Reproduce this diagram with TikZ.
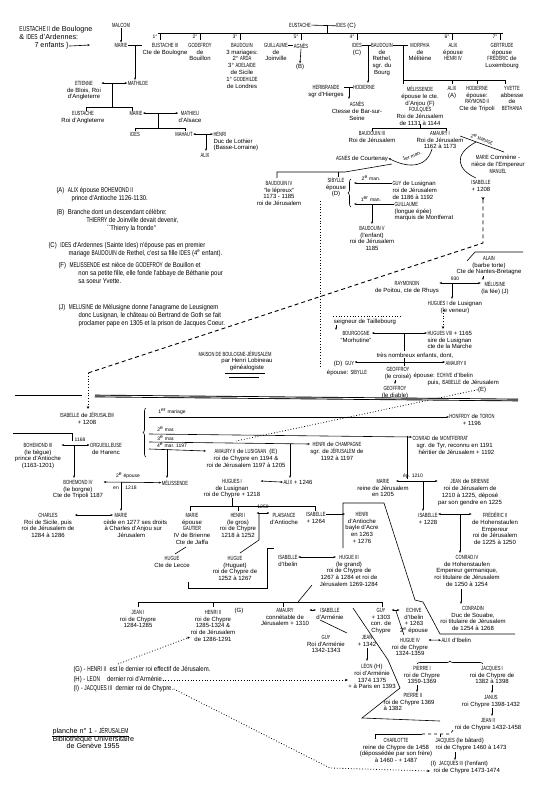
\documentclass[tikz,border=0pt]{standalone}
\usepackage{fontspec}
\setmainfont{Liberation Sans}
\newfontfamily\capsfont{Liberation Sans}[FakeStretch=0.68]
\newfontfamily\notefont{Liberation Sans}[FakeStretch=0.85]
\newcommand\Nm[1]{{\capsfont #1}}
\usetikzlibrary{arrows.meta, positioning, decorations.pathreplacing}

\begin{document}
\begin{tikzpicture}[x=1pt, y=-1pt,
	every node/.style={inner sep=0.3pt, font=\fontsize{6}{6.9}\selectfont},
	nm/.style={anchor=north, yshift=2.5pt, align=center},
	nl/.style={anchor=north west, yshift=2.5pt, align=left},
	notew/.style={anchor=north west, yshift=2.8pt, align=left, font=\fontsize{7.2}{7.6}\selectfont},
	note/.style={notew, font=\notefont\fontsize{7}{7.6}\selectfont},
	lbl/.style={font=\fontsize{5}{6}\selectfont, inner sep=0.5pt},
	lnk/.style={line width=0.6pt},
	mar/.style={lnk, {Stealth[length=2.6pt,width=2pt]}-{Stealth[length=2.6pt,width=2pt]}},
	dn/.style={lnk, -{Stealth[length=2.6pt,width=2pt]}},
	up/.style={lnk, {Stealth[length=2.6pt,width=2pt]}-},
	dotl/.style={line width=0.8pt, dotted},
	dashl/.style={line width=0.9pt, dash pattern=on 4pt off 3pt},
	sep/.style={double, double distance=0.8pt, line width=0.9pt},
	brc/.style={lnk, decorate, decoration={brace, amplitude=3pt}}]
	\fill[white] (0,0) rectangle (550,797);
	\useasboundingbox (0,0) rectangle (550,797);

	% Boulogne
	\node[notew] (eust2) at (19,29) {\Nm{EUSTACHE II} de Boulogne\\\& \Nm{IDES} d'Ardennes:};
	\node[notew] (enf) at (34,45) {7 enfants \}};
	\coordinate (enfto) at (90,45);
	\draw[dn] (enf.east) -- (enfto);
	\node[nm] (malcom) at (121,25) {\Nm{MALCOM}};
	\node[nm] (marie1) at (121,45) {\Nm{MARIE}};
	\draw[dn] (malcom) -- (marie1);
	\node[nm] (eust3) at (165,45) {\Nm{EUSTACHE III}\\Cte de Boulogne};
	\draw[lnk] (marie1.east) -- (eust3.west |- marie1.east);
	\node[nm] (eustache) at (300,25) {\Nm{EUSTACHE}};
	\node[nm] (idesc) at (346,25) {\Nm{IDES} (C)};
	\draw[lnk] (eustache.east) -- (idesc.west);
	\draw[lnk] (327,25) -- (327,33);
	\draw[lnk] (158,33) -- (503,33);
	\foreach \x/\n in {160/1,200/2,240/3,301/5,357/4,452/6,500/7} {
		\draw[lnk] (\x,33) -- (\x,40);
		\node[lbl] (ord\n) at ({\x-5},37) {\n°};
	}
	\node[nm] (godefroy) at (200,45) {\Nm{GODEFROY}\\de\\Bouillon};
	\node[nm] (baudouin1) at (242,45) {\Nm{BAUDOUIN}\\3 mariages:\\2° \Nm{ARDA}\\3° \Nm{ADELAIDE}\\de Sicile\\1° \Nm{GODEHILDE}\\de Londres};
	\node[nm] (guillaume) at (276,45) {\Nm{GUILLAUME}\\de\\Joinville};
	\node[nm] (agnes1) at (301,45) {\Nm{AGNÈS}};
	\draw[lnk] (guillaume.east |- agnes1.west) -- (agnes1.west);
	\node[nm] (b) at (300,66) {(B)};
	\draw[dn] (agnes1.south) -- (b.north);
	\node[nm] (ides4) at (357,45) {\Nm{IDES}\\(C)};
	\node[nm] (baudouin2) at (382,45) {\Nm{BAUDOUIN}\\de\\Rethel,\\sgr. du\\Bourg};
	\draw[lnk] (ides4.east |- 0,45) -- (baudouin2.west |- 0,45);
	\node[nm] (morphia) at (420,45) {\Nm{MORPHIA}\\de\\Mélitène};
	\draw[lnk] (baudouin2.east |- 0,45) -- (morphia.west |- 0,45);
	\node[nm] (alix1) at (453,45) {\Nm{ALIX}\\épouse\\\Nm{HENRI IV}};
	\node[nm] (gertrude) at (502,45) {\Nm{GERTRUDE}\\épouse\\\Nm{FRÉDÉRIC} de\\Luxembourg};

	\node[nm] (etienne) at (84,83) {\Nm{ETIENNE}\\de Blois, Roi\\d'Angleterre};
	\node[nm] (mathilde) at (138,83) {\Nm{MATHILDE}};
	\draw[dn] (135,45) -- (135,80);
	\draw[mar] (etienne.east |- mathilde.west) -- (mathilde.west);
	\draw[lnk] (112,83) -- (112,107);
	\draw[lnk] (86,111) -- (86,107) -- (132,107) -- (132,111);
	\node[nm] (eustache4) at (83,113) {\Nm{EUSTACHE}\\Roi d'Angleterre};
	\node[nm] (marie2) at (136,113) {\Nm{MARIE}};
	\node[nm] (mathieu) at (190,113) {\Nm{MATHIEU}\\d'Alsace};
	\draw[mar] (marie2.east) -- (mathieu.west |- marie2.east);
	\draw[lnk] (158,113) -- (158,128);
	\draw[lnk] (135,131) -- (135,128) -- (185,128) -- (185,131);
	\node[nm] (ides5) at (135,134) {\Nm{IDES}};
	\node[nm] (mahaut) at (184,134) {\Nm{MAHAUT}};
	\node[nl] (henri1) at (213,134) {\Nm{HENRI}\\Duc de Lothier\\(Basse-Lorraine)};
	\draw[mar] (mahaut.east) -- (henri1.west |- mahaut.east);
	\draw[dn] (206,134) -- (206,151);
	\node[nm] (alix2) at (205,155) {\Nm{ALIX}};

	% Rethel
	\node[nm] (heribrande) at (326,87) {\Nm{HERIBRANDE}\\sgr d'Hierges};
	\node[nm] (hodierne1) at (364,87) {\Nm{HODIERNE}};
	\draw[lnk] (heribrande.east |- hodierne1.west) -- (hodierne1.west);
	\draw[dn] (368,45) -- (368,83);
	\draw[dn] (349,87) -- (349,99);
	\node[nm] (agnes2) at (357,103) {\Nm{AGNÈS}\\Ctesse de Bar-sur-\\Seine};
	\draw[lnk] (403,45) -- (403,80) -- (505,80);
	\foreach \x in {403,452,477,505} \draw[lnk] (\x,80) -- (\x,84);
	\node[nm] (melissende1) at (420,88) {\Nm{MÉLISSENDE}\\épouse le cte.\\d'Anjou (F)\\\Nm{FOULQUES}\\Roi de Jérusalem\\de 1131 à 1144};
	\node[nm] (alix3) at (452,88) {\Nm{ALIX}\\(A)};
	\node[nm] (hodierne2) at (477,88) {\Nm{HODIERNE}\\épouse:\\\Nm{RAYMOND II}\\Cte de Tripoli};
	\node[nm] (yvette) at (512,88) {\Nm{YVETTE}\\abbesse\\de\\\Nm{BETHANIA}};
	\draw[lnk] (420,124) -- (420,128);
	\draw[lnk] (372,131) -- (372,128) -- (446,128) -- (446,131);
	\node[nm] (baudouin3) at (372,133) {\Nm{BAUDOUIN III}\\Roi de Jérusalem};
	\node[nm] (amaury1) at (440,133) {\Nm{AMAURY I}\\Roi de Jérusalem\\1162 à 1173};
	\node[nm] (agnes3) at (362,157) {\Nm{AGNÈS} de Courtenay};
	\draw[dn] (432,149) .. controls (426,170) and (405,167) .. (agnes3.east);
	\node[lbl, rotate=20] (man1a) at (412,156) {1er man.};
	\draw[lnk] (460,136) -- (504,152);
	\node[lbl, rotate=-20] (mar2a) at (482,139) {2\textsuperscript{e} \Nm{MARIAGE}};
	\draw[lnk] (476,142) .. controls (452,155) and (458,170) .. (476,178);
	\node[nm] (mariecomn) at (498,157) {\Nm{MARIE} Comnène -\\nièce de l'Empereur\\\Nm{MANUEL}};
	\node[nm] (isabelle1) at (481,182) {\Nm{ISABELLE}\\+ 1208};
	\draw[lnk] (392,164) -- (345,172) -- (277,172) -- (277,178);
	\draw[lnk] (338,172) -- (338,177);
	\node[nm] (baudouin4) at (279,183) {\Nm{BAUDOUIN IV}\\``le lépreux''\\1173 - 1185\\roi de Jérusalem};
	\node[nm] (sibylle) at (336,180) {\Nm{SIBYLLE}\\épouse\\(D)};
	\draw[brc] (351,207) -- (351,179);
	\node[nl] (guy1) at (392,183) {\Nm{GUY} de Lusignan\\roi de Jérusalem\\de 1186 à 1192};
	\node[nl] (guillaume2) at (394,204) {\Nm{GUILLAUME}\\(longue épée)\\marquis de Montferrat};
	\draw[up] (354,183) -- (guy1.west |- 0,183);
	\draw[up] (354,204) -- (guillaume2.west |- 0,204);
	\node[lbl] (man2b) at (371,178) {2\textsuperscript{e} man.};
	\node[lbl] (man1b) at (371,199) {1\textsuperscript{er} man.};
	\draw[dn] (372,204) -- (372,224);
	\node[nm] (baudouin5) at (372,228) {\Nm{BAUDOUIN V}\\(l'enfant)\\roi de Jérusalem\\1185};
	\draw[dotl] (320,201) -- (320,367);
	\draw[dashl, {Stealth[reversed,length=3pt,width=3pt]}-] (483,197) -- (483,243) -- (88,373);
	\draw[dotl, -{Stealth[length=3pt,width=2.5pt]}] (88,373) -- (88,409);

	% notes
	\node[note] (notea) at (56,190) {(A)\enspace \Nm{ALIX} épouse \Nm{BOHEMOND II}\\\hspace*{15pt}prince d'Antioche 1126-1130.};
	\node[note] (noteb) at (56,212) {(B)\enspace Branche dont un descendant célèbre:\\\hspace*{30pt}\Nm{THIERRY} de Joinville devait devenir,\\\hspace*{50pt}``Thierry la fronde''};
	\node[note] (notec) at (48,245) {(C)\enspace \Nm{IDES} d'Ardennes (Sainte Ides) n'épouse pas en premier\\\hspace*{20pt}mariage \Nm{BAUDOUIN} de Rethel, c'est sa fille \Nm{IDES} (4\textsuperscript{e} enfant).};
	\node[note] (notef) at (58,265) {(F)\enspace \Nm{MELISSENDE} est nièce de \Nm{GODEFROY} de Bouillon et\\\hspace*{20pt}non sa petite fille, elle fonde l'abbaye de Béthanie pour\\\hspace*{20pt}sa soeur Yvette.};
	\node[note] (notej) at (58,307) {(J)\enspace \Nm{MELUSINE} de Mélusigne donne l'anagrame de Leusignem\\\hspace*{20pt}donc Lusignan, le château où Bertrand de Goth se fait\\\hspace*{20pt}proclamer pape en 1305 et la prison de Jacques Coeur.};
	\node[nm] (maison) at (235,353) {\Nm{MAISON DE BOULOGNE-JÉRUSALEM}};
	\node[nm] (lobineau) at (247,360) {par Henri Lobineau\\généalogiste};
	\draw[lnk] (225,373) -- (265,373);
	\draw[lnk] (229,377) -- (259,377);

	% Lusignan
	\node[nm] (alain) at (489,258) {\Nm{ALAIN}\\(barbe torte)\\Cte de Nantes-Bretagne};
	\draw[lnk] (467,261) -- (475,252) -- (523,252);
	\draw[dn] (483,276) -- (483,280);
	\node[nm] (melusine) at (495,283) {\Nm{MÉLUSINE}\\(la fée) (J)};
	\node[nm] (raymondin) at (407,283) {\Nm{RAYMONDIN}\\de Poitou, cte de Rhuys};
	\draw[mar] (raymondin.east |- 0,283) -- (melusine.west |- 0,283);
	\node[lbl] (an930) at (455,279) {930};
	\draw[dn] (452,283) -- (452,299);
	\node[nm] (hugues1) at (455,303) {\Nm{HUGUES I} de Lusignan\\(le veneur)};
	\draw[dotl, -{Stealth[length=3pt,width=2.5pt]}] (443,310) -- (443,329);
	\node[nm] (taillebourg) at (365,321) {seigneur de Taillebourg};
	\draw[dotl] (333,316) -- (402,316);
	\draw[dn] (336,325) -- (336,330);
	\node[nm] (bourgogne) at (356,333) {\Nm{BOURGOGNE}\\``Morhutine''};
	\node[nl] (hugues8) at (427,333) {\Nm{HUGUES VIII} + 1165\\sire de Lusignan\\cte de la Marche};
	\draw[mar] (bourgogne.east |- 0,333) -- (hugues8.west |- 0,333);
	\draw[lnk] (404,333) -- (404,351);
	\node[nm] (enfants) at (415,355) {très nombreux enfants, dont,};
	\node[nm] (guyd) at (344,363) {(D)\enspace\Nm{GUY}};
	\node[nm] (amaury2) at (456,363) {\Nm{AMAURY II}};
	\draw[mar] (guyd.east |- 0,362) -- (amaury2.west |- 0,362);
	\draw[lnk] (404,358) -- (404,366);
	\node[nm] (geoffroy1) at (398,369) {\Nm{GEOFFROY}\\(le croisé)};
	\node[nl] (amaury2ep) at (413,375) {épouse: \Nm{ECHIVE} d'Ibelin\\\hspace*{14pt}puis, \Nm{ISABELLE} de Jérusalem};
	\node[nm] (refe) at (482,389) {(E)};
	\node[nm] (epsib) at (347,372) {épouse: \Nm{SIBYLLE}};
	\draw[dn] (395,380) -- (395,384);
	\node[nm] (geoffroy2) at (395,388) {\Nm{GEOFFROY}\\(le diable)};
	\draw[dotl] (refe.west) -- (236,441);

	\draw[sep] (15,396) -- (82,396);
	\draw[sep] (95,396) -- (518,400);

	% Jerusalem
	\node[nm] (isabelle2) at (87,414) {\Nm{ISABELLE} de \Nm{JÉRUSALEM}\\+ 1208};
	\draw[brc] (146,457) -- (146,408);
	\node[nm] (humfroy) at (472,416) {\Nm{HONFROY} de \Nm{TORON}\\+ 1196};
	\draw[dn] (149,417) -- (humfroy.west |- 0,417);
	\node[lbl] (m1) at (172,412) {1\textsuperscript{er} mariage};
	\node[nl] (conrad) at (412,438) {\Nm{CONRAD} de \Nm{MONTFERRAT}\\\hspace*{4pt}sgr. de Tyr, reconnu en 1191\\\hspace*{6pt}héritier de Jérusalem + 1192};
	\draw[dn] (149,434) -- (conrad.west |- 0,437);
	\node[lbl] (m2) at (166,429) {2\textsuperscript{e} mar.};
	\node[nm] (henri3) at (337,444) {\Nm{HENRI} de \Nm{CHAMPAGNE}\\sgr. de \Nm{JÉRUSALEM} de\\1192 à 1197};
	\draw[dn] (149,442) -- (henri3.west |- 0,444);
	\node[lbl] (m3) at (166,438) {3\textsuperscript{e} mar.};
	\node[nm] (amaury3) at (246,451) {\Nm{AMAURY II} de \Nm{LUSIGNAN}\enspace(E)\\roi de Chypre en 1194 \&\\roi de Jérusalem 1197 à 1205};
	\draw[dn] (149,449) -- (amaury3.west |- 0,451);
	\node[lbl] (m4) at (172,445) {4\textsuperscript{e} mar. 1197};
	\draw[dn] (167,449) -- (167,478);
	\draw[dn] (290,444) -- (290,478);
	\draw[lnk] (407,436) -- (407,479);

	\node[nm] (bohemond3) at (38,445) {\Nm{BOHEMOND III}\\(le bègue)\\prince d'Antioche\\(1163-1201)};
	\node[nm] (orgueil) at (106,445) {\Nm{ORGUEILLEUSE}\\de Harenc};
	\draw[mar] (bohemond3.east |- 0,445) -- (orgueil.west |- 0,445);
	\node[lbl] (y1168) at (80,440) {1168};
	\draw[lnk] (13,433) -- (72,433) -- (72,441);
	\draw[dn] (74,445) -- (74,478);
	\node[nm] (bohemond4) at (78,482) {\Nm{BOHEMOND IV}\\(le borgne)\\Cte de Tripoli 1187};
	\node[nm] (melissende2) at (175,482) {\Nm{MÉLISSENDE}};
	\draw[mar] (bohemond4.east |- 0,482) -- (melissende2.west);
	\node[lbl] (ep2) at (128,476) {2\textsuperscript{e} épouse};
	\node[lbl] (en) at (116,488) {en};
	\node[lbl] (y1218) at (131,488) {1218};
	\draw[dn] (121,482) -- (121,511);
	\node[nm] (charles) at (48,515) {\Nm{CHARLES}\\Roi de Sicile, puis\\roi de Jérusalem de\\1284 à 1286};
	\node[nl] (marie3) at (103,515) {\hspace*{11pt}\Nm{MARIE}\\cède en 1277 ses droits\\\hspace*{1pt}à Charles d'Anjou sur\\\hspace*{14pt}Jérusalem};
	\draw[mar] (charles.east |- 0,515) -- (113,515);

	\node[nm] (hugues1c) at (232,481) {\Nm{HUGUES I}\\de Lusignan\\roi de Chypre + 1218};
	\node[nl] (alix4) at (283,482) {\Nm{ALIX} + 1246};
	\draw[mar] (hugues1c.east |- 0,481) -- (alix4.west);
	\node[nm] (marie4) at (383,481) {\Nm{MARIE}\\reine de Jérusalem\\en 1205};
	\node[nm] (jean1210) at (470,481) {\Nm{JEAN} de \Nm{BRIENNE}\\roi de Jérusalem de\\1210 à 1225, déposé\\par son gendre en 1225};
	\draw[mar] (396,481) -- (jean1210.west |- 0,481);
	\node[lbl] (ep1210) at (413,476) {ép. 1210};
	\draw[dn] (423,481) -- (423,511);
	\node[nm] (isabelle3) at (428,515) {\Nm{ISABELLE}\\+ 1228};
	\node[nm] (frederic) at (495,514) {\Nm{FRÉDÉRIC II}\\de Hohenstaufen\\Empereur\\roi de Jérusalem\\de 1225 à 1250};
	\draw[mar] (isabelle3.east |- 0,514) -- (frederic.west |- 0,514);
	\draw[dn] (460,514) -- (460,553);
	\node[nm] (conrad4) at (467,557) {\Nm{CONRAD IV}\\de Hohenstaufen\\Empereur germanique,\\roi titulaire de Jérusalem\\de 1250 à 1254};
	\draw[dn] (461,589) -- (461,604);
	\node[nm] (conradin) at (473,608) {\Nm{CONRADIN}\\Duc de Souabe,\\roi titulaire de Jérusalem\\de 1254 à 1268};

	% Chypre
	\draw[lnk] (232,498) -- (232,506);
	\draw[lnk] (190,511) -- (190,506) -- (315,506) -- (315,511);
	\draw[lnk] (238,506) -- (238,511);
	\node[nm] (marie5) at (192,515) {\Nm{MARIE}\\épouse\\\Nm{GAUTIER}\\IV de Brienne\\Cte de Jaffa};
	\node[nm] (henri4) at (238,515) {\Nm{HENRI I}\\(le gros)\\roi de Chypre\\1218 à 1252};
	\node[nm] (plaisance) at (284,515) {\Nm{PLAISANCE}\\d'Antioche};
	\draw[mar] (henri4.east |- 0,513) -- (plaisance.west |- 0,513);
	\node[lbl] (y1250) at (263,507) {1250};
	\draw[lnk] (259,513) -- (259,540) -- (240,553);
	\node[nm] (huguet) at (235,558) {\Nm{HUGUE}\\(Huguet)\\roi de Chypre de\\1252 à 1267};
	\draw[lnk] (186,547) -- (175,554);
	\node[nm] (huguelecce) at (172,558) {\Nm{HUGUE}\\Cte de Lecce};
	\node[nm] (isabelle4) at (316,514) {\Nm{ISABELLE}\\+ 1264};
	\node[nm] (henri5) at (362,514) {\Nm{HENRI}\\d'Antioche\\bayle d'Acre\\en 1263\\+ 1276};
	\draw[dn] (isabelle4.east |- 0,514) -- (henri5.west |- 0,514);
	\draw[lnk] (343,548) -- (343,503) -- (384,503) -- (415,600) -- (423,602) -- (440,634) -- (515,634);
	\draw[lnk] (188,582) -- (188,588) -- (267,588) -- (267,548) -- (274,548);
	\node[nm] (isabelle5) at (288,557) {\Nm{ISABELLE}\\d'Ibelin};
	\node[nm] (hugue3) at (349,557) {\Nm{HUGUE III}\\(le grand)\\roi de Chypre de\\1267 à 1284 et roi de\\Jérusalem 1269-1284};
	\draw[mar] (isabelle5.east |- 0,557) -- (336,557);
	\draw[lnk] (312,585) -- (298,602);
	\draw[lnk] (138,607) -- (138,602) -- (382,602) -- (382,607);
	\draw[lnk] (213,602) -- (213,607);
	\draw[lnk] (283,602) -- (283,607);
	\node[nm] (jean1) at (138,612) {\Nm{JEAN I}\\roi de Chypre\\1284-1285};
	\node[nm] (henri6) at (213,612) {\Nm{HENRI II}\\roi de Chypre\\1285-1324 \&\\roi de Jérusalem\\de 1286-1291};
	\node[nm] (refg) at (239,610) {(G)};
	\node[nm] (amaury4) at (285,610) {\Nm{AMAURY}\\connétable de\\Jérusalem + 1310};
	\node[nm] (isabelle6) at (330,610) {\Nm{ISABELLE}\\d'Arménie};
	\draw[mar] (amaury4.east |- 0,610) -- (isabelle6.west |- 0,610);
	\draw[lnk] (353,608) -- (388,660) -- (400,688) -- (362,718) -- (440,721);
	\draw[lnk] (320,620) -- (347,633);
	\node[nm] (guy3) at (326,637) {\Nm{GUY}\\Roi d'Arménie\\1342-1343};
	\node[nm] (jean2) at (367,637) {\Nm{JEAN}\\+ 1342};
	\draw[dn] (367,648) -- (367,661);
	\node[nm] (leon) at (372,665) {\Nm{LÉON} (H)\\roi d'Arménie\\1374 1375\\+ à Paris en 1393};
	\node[nm] (guy4) at (381,610) {\Nm{GUY}\\+ 1303\\con. de\\Chypre};
	\node[nm] (echive) at (414,610) {\Nm{ECHIVE}\\d'Ibelin\\+ 1263\\2\textsuperscript{e} épouse};
	\draw[mar] (guy4.east |- 0,610) -- (echive.west |- 0,610);
	\draw[lnk] (396,611) -- (404,635);
	\node[nm] (hugue4) at (410,640) {\Nm{HUGUE IV}\\roi de Chypre\\1324-1359};
	\node[nl] (alix5) at (441,640) {\Nm{ALIX} d'Ibelin};
	\draw[mar] (hugue4.east |- 0,640) -- (alix5.west);
	\draw[brc] (417,664) -- (483,664);
	\node[nm] (pierre1) at (422,668) {\Nm{PIERRE I}\\roi de Chypre\\1359-1369};
	\draw[dn] (417,685) -- (417,692);
	\node[nl] (pierre2) at (383,695) {\hspace*{20pt}\Nm{PIERRE II}\\roi de Chypre 1369\\à 1382};
	\node[nm] (jacques1) at (492,668) {\Nm{JACQUES I}\\roi de Chypre de\\1382 à 1398};
	\draw[dn] (492,685) -- (492,693);
	\node[nm] (janus) at (491,697) {\Nm{JANUS}\\roi Chypre 1398-1432};
	\draw[dn] (492,708) -- (492,716);
	\node[nm] (jean3) at (488,720) {\Nm{JEAN II}\\roi de Chypre 1432-1458};
	\draw[lnk] (375,739) -- (375,734) -- (422,734);
	\draw[lnk, dashed] (422,734) -- (450,734) -- (454,729);
	\draw[lnk] (440,734) -- (440,737);
	\node[nm] (charlotte) at (396,740) {\Nm{CHARLOTTE}\\reine de Chypre de 1458\\(dépossédée par son frère)\\à 1460 - + 1487};
	\node[nl] (jacques2) at (435,740) {\Nm{JACQUES} (le bâtard)\\roi de Chypre 1460 à 1473};
	\draw[dn] (455,752) -- (455,760);
	\node[nl] (jacques3) at (430,763) {(I)\enspace\Nm{JACQUES III} (l'enfant)\\\hspace*{3pt}roi de Chypre 1473-1474};

	\node[note] (noteg) at (73,669) {(G) - \Nm{HENRI II}\enspace est le dernier roi effectif de Jérusalem.};
	\node[note] (noteh) at (73,679) {(H) - \Nm{LEON}\quad dernier roi d'Arménie};
	\node[note] (notei) at (73,688) {(I) - \Nm{JACQUES III}\enspace dernier roi de Chypre.};
	\draw[dotl, -{Stealth[length=3pt,width=2.5pt]}] (118,664) -- (190,637);
	\draw[dotl, -{Stealth[length=3pt,width=2.5pt]}] (noteh.east) -- (leon.west |- noteh.east);
	\draw[dotl, -{Stealth[length=3pt,width=2.5pt]}] (notei.east) -- (330,768) -- (jacques3.west |- 0,771);
	\node[notew] (planche) at (52,730) {planche n° 1 - \Nm{JÉRUSALEM}};
	\draw[lnk] (planche.south west) -- (planche.south east);
	\node[notew] (biblio) at (52,738) {Bibliothèque Universitaire\\\hspace*{14pt}de Genève 1955};
\end{tikzpicture}
\end{document}
